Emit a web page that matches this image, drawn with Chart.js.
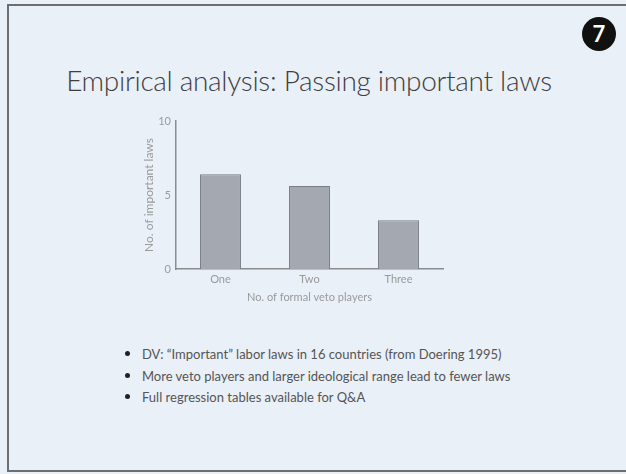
<!DOCTYPE html>
<html>
<head>
<meta charset="utf-8">
<script src="https://cdn.jsdelivr.net/npm/chart.js@4"></script>
<style>
  html, body { margin: 0; padding: 0; }
  body { width: 626px; height: 474px; background: #eaf0f8; position: relative; overflow: hidden; font-family: Lato, "Open Sans", sans-serif; }
  .frame { position: absolute; left: 7px; top: 4px; width: 640px; height: 468px; border: 2px solid #6e6e70; box-sizing: border-box; }
  .badge { position: absolute; left: 582px; top: 17px; width: 34px; height: 34px; border-radius: 50%; background: #111; color: #fff; font: bold 22px Lato, sans-serif; text-align: center; line-height: 34px; }
  h1 { position: absolute; left: 0; width: 618px; top: 63px; margin: 0; text-align: center; font-weight: 300; font-size: 28px; color: #3f3f3f; letter-spacing: -0.3px; }
  #wrap { position: absolute; left: 142px; top: 108px; width: 318px; height: 200px; }
  ul { position: absolute; left: 102px; top: 342px; margin: 0; padding: 0 0 0 40px; font-size: 13px; color: #555; }
  li { height: 21.5px; line-height: 22px; }
  li::marker { font-size: 15px; color: #222; }
</style>
</head>
<body>
<div class="frame"></div>
<div class="badge">7</div>
<h1>Empirical analysis: Passing important laws</h1>
<div id="wrap"><canvas id="lawsChart"></canvas></div>
<ul>
  <li>DV: “Important” labor laws in 16 countries (from Doering 1995)</li>
  <li>More veto players and larger ideological range lead to fewer laws</li>
  <li>Full regression tables available for Q&amp;A</li>
</ul>
<script>
const vetoPlayers = ['One', 'Two', 'Three'];
const importantLaws = [6.4, 5.6, 3.3];
const yTicks = [0, 5, 10];

const ctx = document.getElementById('lawsChart').getContext('2d');
const lawsChart = new Chart(ctx, {
    type: 'bar',
    data: {
        labels: vetoPlayers,
        datasets: [{
            data: importantLaws,
            backgroundColor: '#a4a8b0',
            borderColor: '#7a7d83',
            borderWidth: 1,
            categoryPercentage: 1,
            barPercentage: 0.46
        }]
    },
    options: {
        responsive: true,
        maintainAspectRatio: false,
        animation: false,
        layout: { padding: { top: 13, right: 17, left: 0, bottom: 0 } },
        plugins: { legend: { display: false }, tooltip: { enabled: false } },
        scales: {
            x: {
                grid: { display: false, drawTicks: false },
                border: { display: true, color: '#8a8c90', width: 1.5 },
                ticks: { color: '#9a9a9a', font: { family: 'Lato', size: 11 }, padding: 4 },
                title: { display: true, text: 'No. of formal veto players', color: '#9a9a9a', font: { family: 'Lato', size: 11 }, padding: { top: 1 } },
                afterFit: (scale) => { scale.height = 39; }
            },
            y: {
                min: 0,
                max: 10,
                afterBuildTicks: (scale) => { scale.ticks = yTicks.map(v => ({ value: v })); },
                grid: { display: false, drawTicks: false },
                border: { display: true, color: '#8a8c90', width: 1.5 },
                ticks: { color: '#9a9a9a', font: { family: 'Lato', size: 11 }, padding: 5 },
                title: { display: true, text: 'No. of important laws', color: '#9a9a9a', font: { family: 'Lato', size: 12 }, padding: 0 },
                afterFit: (scale) => { scale.width = 34; }
            }
        }
    }
});
</script>
</body>
</html>
